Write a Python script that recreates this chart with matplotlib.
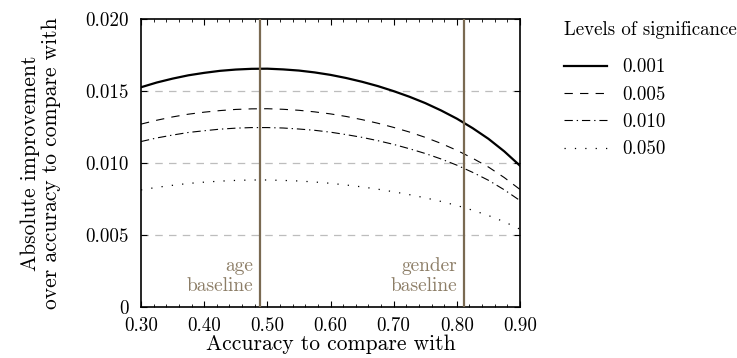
import numpy as np
import matplotlib
matplotlib.use("Agg")
import matplotlib.pyplot as plt
from matplotlib.ticker import MultipleLocator

plt.rcParams['font.family'] = 'cmr10'
plt.rcParams['axes.formatter.use_mathtext'] = True
plt.rcParams['font.size'] = 13.7

# accuracy to compare with
acc = [0.300, 0.325, 0.350, 0.375, 0.400, 0.425, 0.450, 0.475, 0.500,
       0.525, 0.550, 0.575, 0.600, 0.625, 0.650, 0.675, 0.700, 0.725,
       0.750, 0.775, 0.800, 0.825, 0.850, 0.875, 0.900]

# required absolute improvement per significance level
imp_001 = [0.01526, 0.01559, 0.01586, 0.01609, 0.01626, 0.01640, 0.01649, 0.01654, 0.01655,
           0.01650, 0.01642, 0.01629, 0.01612, 0.01590, 0.01564, 0.01534, 0.01499, 0.01460,
           0.01416, 0.01365, 0.01308, 0.01242, 0.01168, 0.01081, 0.00981]
imp_005 = [0.01270, 0.01297, 0.01320, 0.01339, 0.01353, 0.01364, 0.01372, 0.01376, 0.01377,
           0.01373, 0.01366, 0.01355, 0.01341, 0.01323, 0.01301, 0.01276, 0.01247, 0.01215,
           0.01178, 0.01136, 0.01088, 0.01033, 0.00972, 0.00899, 0.00816]
imp_010 = [0.01149, 0.01174, 0.01194, 0.01212, 0.01224, 0.01235, 0.01242, 0.01246, 0.01246,
           0.01243, 0.01236, 0.01227, 0.01214, 0.01197, 0.01178, 0.01155, 0.01129, 0.01099,
           0.01066, 0.01028, 0.00985, 0.00935, 0.00880, 0.00814, 0.00739]
imp_050 = [0.00813, 0.00831, 0.00845, 0.00858, 0.00867, 0.00874, 0.00879, 0.00882, 0.00882,
           0.00879, 0.00875, 0.00868, 0.00859, 0.00847, 0.00834, 0.00818, 0.00800, 0.00780,
           0.00758, 0.00733, 0.00705, 0.00672, 0.00635, 0.00592, 0.00540]

levels = ["0.001", "0.005", "0.010", "0.050"]
baselines = {"age\nbaseline": 0.489, "gender\nbaseline": 0.812}

xticks = [0.30, 0.40, 0.50, 0.60, 0.70, 0.80, 0.90]
yticks = [0, 0.005, 0.010, 0.015, 0.020]
ytick_labels = ["0", "0.005", "0.010", "0.015", "0.020"]

base_col = "#7a6a52"
text_col = "#8c7d66"

fig = plt.figure(figsize=(7.37, 3.58), dpi=100)
ax = fig.add_axes([0.1913, 0.1425, 0.5143, 0.8044])

for y in [0.005, 0.010, 0.015]:
    ax.axhline(y, color="#bdbdbd", lw=0.9, ls=(0, (6, 5)), zorder=1)

ax.plot(acc, imp_001, color="black", lw=1.6, ls="-", label=levels[0])
ax.plot(acc, imp_005, color="black", lw=0.8, ls=(0, (7.5, 6.5)), label=levels[1])
ax.plot(acc, imp_010, color="black", lw=0.8, ls=(0, (7.5, 3.5, 1.2, 3.5)), label=levels[2])
ax.plot(acc, imp_050, color="black", lw=0.9, ls=(0, (1, 7.3)), label=levels[3])

for txt, xv in baselines.items():
    ax.axvline(xv, color=base_col, lw=1.6, zorder=3)
    ax.text(xv - 0.012, 0.0008, txt, ha="right", va="bottom", color=text_col,
            linespacing=1.15, fontsize=14)

ax.set_xlim(0.30, 0.90)
ax.set_ylim(0, 0.020)
ax.set_xticks(xticks)
ax.set_xticklabels(["%.2f" % v for v in xticks])
ax.set_yticks(yticks)
ax.set_yticklabels(ytick_labels)
ax.xaxis.set_minor_locator(MultipleLocator(0.02))
ax.tick_params(which="both", direction="in", top=True, right=True)
ax.tick_params(which="major", length=4, width=0.8)
ax.tick_params(axis="x", which="major", pad=7)
ax.tick_params(axis="y", which="major", pad=9)
ax.tick_params(which="minor", length=2, width=0.6)
for s in ax.spines.values():
    s.set_linewidth(1.2)

ax.set_xlabel("Accuracy to compare with", fontsize=15.5, labelpad=0)
ax.set_ylabel("Absolute improvement\nover accuracy to compare with", fontsize=15.5,
              labelpad=17, linespacing=1.12)

leg = ax.legend(loc="upper left", bbox_to_anchor=(1.11, 1.0), frameon=False,
                title="Levels of significance", alignment="left",
                handlelength=2.3, handletextpad=0.8, labelspacing=0.5,
                borderaxespad=0, borderpad=0.1,
                fontsize=13.6, title_fontsize=13.6)
leg._legend_box.sep = 14

fig.savefig("out.png", dpi=100)
